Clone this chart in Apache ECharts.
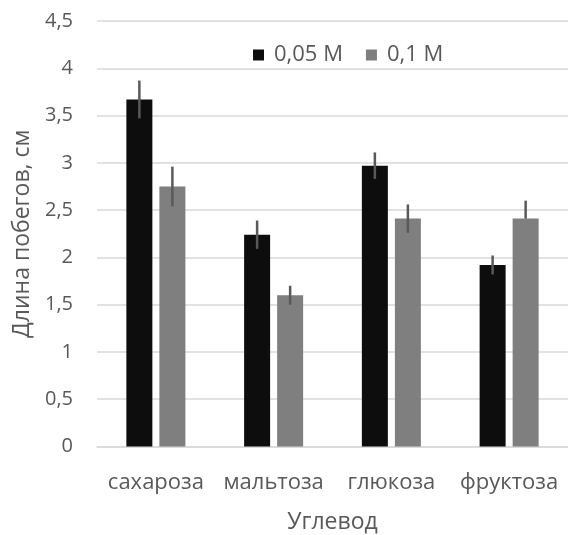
<!DOCTYPE html>
<html><head><meta charset="utf-8">
<script src="https://cdn.jsdelivr.net/npm/echarts@6/dist/echarts.min.js"></script>
<style>html,body{margin:0;padding:0;background:#fff}#c{width:568px;height:535px}</style>
</head><body><div id="c"></div>
<script>
const categories = ['сахароза', 'мальтоза', 'глюкоза', 'фруктоза'];
const seriesNames = ['0,05 M', '0,1 M'];
const values005 = [3.67, 2.24, 2.97, 1.92];
const values01 = [2.75, 1.60, 2.41, 2.41];
const errPlus005 = [0.20, 0.15, 0.14, 0.10];
const errMinus005 = [0.20, 0.15, 0.14, 0.10];
const errPlus01 = [0.21, 0.10, 0.15, 0.19];
const errMinus01 = [0.21, 0.10, 0.15, 0.0];
const yTicks = ['0','0,5','1','1,5','2','2,5','3','3,5','4','4,5'];

const FONT = '"Open Sans", sans-serif';
const TXT = '#595959';
const BAR_W = 26, GAP = 0.27;
const offset = (BAR_W + BAR_W * GAP) / 2;

function errSeries(vals, minus, plus, sign) {
  return {
    type: 'custom', z: 10, silent: true,
    renderItem: function (params, api) {
      const i = api.value(0);
      const v = api.value(1);
      const top = api.coord([i, v + api.value(3)]);
      const bot = api.coord([i, v - api.value(2)]);
      const x = top[0] + sign * offset;
      return { type: 'line', shape: { x1: x, y1: top[1], x2: x, y2: bot[1] },
        style: { stroke: '#595959', lineWidth: 2.5 } };
    },
    data: vals.map((v, i) => [i, v, minus[i], plus[i]])
  };
}

const chart = echarts.init(document.getElementById('c'), null, { renderer: 'canvas' });
chart.setOption({
  animation: false,
  legend: {
    data: seriesNames, left: 248, top: 39, icon: 'rect', itemWidth: 11, itemHeight: 11,
    itemGap: 23, textStyle: { fontFamily: FONT, fontSize: 22, color: TXT, padding: [0, 0, 0, 5] }
  },
  grid: { left: 97, right: 0, top: 21, bottom: 88.5, containLabel: false, outerBoundsMode: 'none' },
  xAxis: {
    type: 'category', data: categories,
    name: 'Углевод', nameLocation: 'middle', nameGap: 64,
    nameTextStyle: { fontFamily: FONT, fontSize: 23, color: TXT },
    axisLine: { lineStyle: { color: '#d9d9d9', width: 1.5 } },
    axisTick: { show: false },
    axisLabel: { fontFamily: FONT, fontSize: 22, color: TXT, margin: 25, interval: 0 }
  },
  yAxis: {
    type: 'value', min: 0, max: 4.5, interval: 0.5,
    name: 'Длина побегов, см', nameLocation: 'middle', nameGap: 50, nameRotate: 90,
    nameTextStyle: { fontFamily: FONT, fontSize: 23, color: TXT },
    axisLine: { show: false }, axisTick: { show: false },
    splitLine: { lineStyle: { color: '#d9d9d9', width: 1.5 } },
    axisLabel: { color: TXT, margin: 11,
      formatter: (v) => '{v|' + yTicks[Math.round(v * 2)] + '}',
      rich: { v: { fontFamily: FONT, fontSize: 20, color: TXT, width: 45, align: 'right',
        padding: [0, 13, 0, 0] } } }
  },
  series: [
    { name: seriesNames[0], type: 'bar', data: values005, barWidth: BAR_W, barGap: '27%',
      itemStyle: { color: '#0d0d0d' } },
    { name: seriesNames[1], type: 'bar', data: values01, barWidth: BAR_W, barGap: '27%',
      itemStyle: { color: '#7f7f7f' } },
    errSeries(values005, errMinus005, errPlus005, -1),
    errSeries(values01, errMinus01, errPlus01, 1)
  ]
});
</script></body></html>
